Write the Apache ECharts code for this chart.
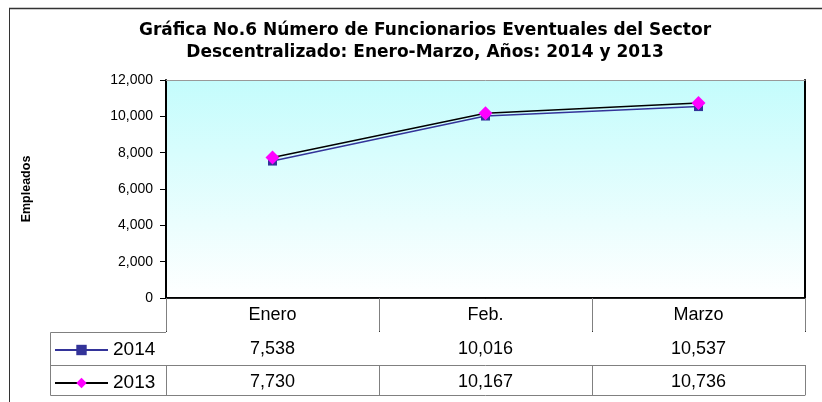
<!DOCTYPE html>
<html>
<head>
<meta charset="utf-8">
<script src="https://cdn.jsdelivr.net/npm/echarts@6/dist/echarts.min.js"></script>
<style>
  html, body { margin: 0; padding: 0; background: #fff; }
  #chart { width: 822px; height: 402px; }
</style>
</head>
<body>
<div id="chart"></div>
<script>
const months = ['Enero', 'Feb.', 'Marzo']
const legendNames = ['2014', '2013']
const values2014 = [7538, 10016, 10537]
const values2013 = [7730, 10167, 10736]
const yTicks = { min: 0, max: 12000, step: 2000 }

const fmt = v => Number(v).toLocaleString('en-US')
const font = 'Liberation Sans, Arial, sans-serif'

const chart = echarts.init(document.getElementById('chart'))

// one category axis per table row, pushed down with offset
function rowAxis (offset, values, lineColor, tickLen, showLabel) {
  return {
    type: 'category',
    gridIndex: 0,
    position: 'bottom',
    offset: offset,
    data: months,
    axisLine: { show: true, lineStyle: { color: lineColor, width: 1 } },
    axisTick: { show: tickLen > 0, length: tickLen, lineStyle: { color: '#808080' } },
    axisLabel: {
      show: showLabel,
      interval: 0,
      margin: 8,
      color: '#000',
      fontFamily: font,
      fontSize: 18,
      formatter: (v, i) => values ? fmt(values[i]) : v
    },
    splitLine: { show: false }
  }
}

function legendRow (name, top) {
  return {
    data: [name],
    left: 54,
    top: top,
    padding: 0,
    itemWidth: 53,
    itemHeight: 13,
    textStyle: { fontFamily: font, fontSize: 19, color: '#000', lineHeight: 20 }
  }
}

const option = {
  animation: false,
  textStyle: { fontFamily: font },
  title: {
    text: 'Gráfica No.6 Número de Funcionarios Eventuales del Sector\nDescentralizado: Enero-Marzo, Años: 2014 y 2013',
    left: 420,
    top: 15,
    textAlign: 'center',
    textStyle: { fontFamily: 'DejaVu Sans, sans-serif', fontSize: 17, fontWeight: 'bold', color: '#000', lineHeight: 22 }
  },
  legend: [
    legendRow(legendNames[0], 340),
    legendRow(legendNames[1], 373)
  ],
  grid: {
    left: 166,
    right: 17,
    top: 80,
    bottom: 104,
    show: true,
    borderWidth: 0,
    backgroundColor: new echarts.graphic.LinearGradient(0, 0, 0, 1, [
      { offset: 0, color: '#C4FCFC' },
      { offset: 1, color: '#FFFFFF' }
    ])
  },
  xAxis: [
    {
      type: 'category',
      data: months,
      position: 'bottom',
      axisLine: { show: true, lineStyle: { color: '#000', width: 2 } },
      axisTick: { show: true, length: 34, lineStyle: { color: '#333' } },
      axisLabel: { interval: 0, margin: 8, color: '#000', fontFamily: font, fontSize: 18 },
      splitLine: { show: false }
    },
    rowAxis(34, values2014, '#222', 33, true),
    rowAxis(67, values2013, '#808080', 30, true),
    rowAxis(97, null, '#808080', 0, false),
    {
      type: 'category',
      data: months,
      position: 'top',
      axisLine: { show: true, lineStyle: { color: '#999', width: 1 } },
      axisTick: { show: false },
      axisLabel: { show: false }
    }
  ],
  yAxis: [
    {
      type: 'value',
      min: yTicks.min,
      max: yTicks.max,
      interval: yTicks.step,
      name: 'Empleados',
      nameLocation: 'middle',
      nameRotate: 90,
      nameGap: 133,
      nameTextStyle: { fontFamily: font, fontSize: 12.5, fontWeight: 'bold', color: '#000' },
      axisLine: { show: true, lineStyle: { color: '#000', width: 2 } },
      axisTick: { show: true, length: 6, lineStyle: { color: '#000' } },
      axisLabel: { margin: 13, color: '#000', fontFamily: font, fontSize: 14, formatter: v => fmt(v) },
      splitLine: { show: false }
    },
    {
      type: 'value',
      position: 'right',
      min: yTicks.min,
      max: yTicks.max,
      interval: yTicks.step,
      axisLine: { show: true, lineStyle: { color: '#000', width: 2 } },
      axisTick: { show: false },
      axisLabel: { show: false },
      splitLine: { show: false }
    }
  ],
  series: [
    {
      name: legendNames[0],
      type: 'line',
      data: values2014,
      symbol: 'rect',
      symbolSize: 9,
      itemStyle: { color: '#333399' },
      lineStyle: { color: '#333399', width: 1.5 }
    },
    {
      name: legendNames[1],
      type: 'line',
      data: values2013,
      symbol: 'diamond',
      symbolSize: 14,
      itemStyle: { color: '#FF00FF' },
      lineStyle: { color: '#000', width: 1.5 }
    }
  ],
  graphic: [
    { type: 'line', shape: { x1: 9, y1: 8.5, x2: 822, y2: 8.5 }, style: { stroke: '#333', lineWidth: 1.5 } },
    { type: 'line', shape: { x1: 9.5, y1: 8, x2: 9.5, y2: 402 }, style: { stroke: '#333', lineWidth: 1 } },
    { type: 'polyline', shape: { points: [[166, 332.5], [50.5, 332.5], [50.5, 395.5], [166, 395.5]] }, style: { stroke: '#808080', lineWidth: 1, fill: null } },
    { type: 'line', shape: { x1: 50, y1: 365.5, x2: 166, y2: 365.5 }, style: { stroke: '#808080', lineWidth: 1 } }
  ]
}

chart.setOption(option)
</script>
</body>
</html>
